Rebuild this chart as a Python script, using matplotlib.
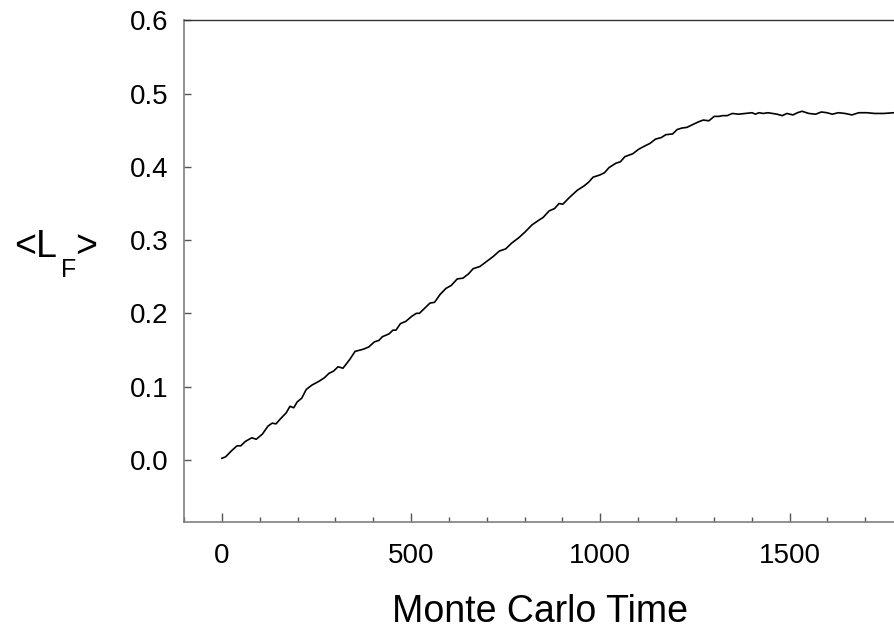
import numpy as np
import matplotlib
matplotlib.use("Agg")
import matplotlib.pyplot as plt
from matplotlib.ticker import MultipleLocator

plt.rcParams["font.family"] = ["Liberation Sans", "DejaVu Sans"]

# <L_F> vs Monte Carlo time
mc_time = [0, 10, 25, 40, 50, 62, 79, 91, 107, 122, 133, 143, 155, 170, 180, 190,
           199, 211, 223, 238, 256, 271, 283, 295, 307, 320, 338, 352, 374, 388,
           403, 415, 424, 442, 452, 460, 472, 486, 502, 514, 522, 538, 550, 562,
           577, 592, 606, 622, 637, 652, 664, 682, 700, 718, 733, 750, 766, 784,
           801, 820, 837, 849, 865, 879, 891, 901, 918, 939, 957, 969, 981, 999,
           1011, 1023, 1041, 1053, 1065, 1086, 1101, 1119, 1131, 1146, 1161, 1173,
           1191, 1203, 1215, 1229, 1245, 1257, 1272, 1287, 1301, 1313, 1323, 1335,
           1349, 1365, 1383, 1401, 1410, 1419, 1431, 1443, 1467, 1481, 1493, 1509,
           1521, 1533, 1551, 1569, 1584, 1599, 1613, 1629, 1647, 1665, 1683, 1704,
           1725, 1749, 1776, 1800]
lf_mean = [0.002, 0.004, 0.012, 0.019, 0.019, 0.025, 0.030, 0.028, 0.035, 0.046,
           0.050, 0.049, 0.056, 0.064, 0.073, 0.071, 0.079, 0.084, 0.096, 0.102,
           0.107, 0.112, 0.118, 0.121, 0.127, 0.125, 0.137, 0.148, 0.151, 0.154,
           0.161, 0.163, 0.168, 0.172, 0.177, 0.177, 0.186, 0.189, 0.196, 0.200,
           0.200, 0.208, 0.214, 0.215, 0.226, 0.234, 0.238, 0.247, 0.248, 0.254,
           0.261, 0.264, 0.271, 0.278, 0.285, 0.288, 0.296, 0.303, 0.311, 0.321,
           0.327, 0.331, 0.340, 0.343, 0.350, 0.349, 0.358, 0.368, 0.374, 0.379,
           0.386, 0.389, 0.392, 0.399, 0.405, 0.407, 0.414, 0.418, 0.424, 0.429,
           0.432, 0.438, 0.440, 0.444, 0.445, 0.451, 0.453, 0.454, 0.458, 0.461,
           0.464, 0.463, 0.469, 0.469, 0.470, 0.470, 0.473, 0.472, 0.473, 0.474,
           0.472, 0.474, 0.473, 0.474, 0.472, 0.470, 0.473, 0.471, 0.474, 0.476,
           0.473, 0.472, 0.475, 0.474, 0.472, 0.474, 0.473, 0.471, 0.474, 0.474,
           0.473, 0.473, 0.474, 0.473]

x_ticks = [0, 500, 1000, 1500]
y_ticks = [0.0, 0.1, 0.2, 0.3, 0.4, 0.5, 0.6]

fig = plt.figure(figsize=(8.95, 6.34), dpi=100)
ax = fig.add_axes([0.2056, 0.1767, 0.8034, 0.791])

ax.plot(mc_time, lf_mean, color="black", lw=1.2)

ax.set_xlim(-100, 1800)
ax.set_ylim(-0.085, 0.6)
ax.set_xticks(x_ticks)
ax.xaxis.set_minor_locator(MultipleLocator(100))
ax.set_yticks(y_ticks)
ax.set_yticklabels([f"{v:.1f}" for v in y_ticks])

for side in ["left", "bottom"]:
    ax.spines[side].set_color("#808080")
    ax.spines[side].set_linewidth(1.2)
ax.spines["top"].set_color("#333333")
ax.spines["top"].set_linewidth(1.0)

ax.tick_params(axis="x", which="major", direction="in", length=6.5, width=1,
               color="#555555", labelsize=20, pad=15)
ax.tick_params(axis="x", which="minor", direction="in", length=3.3, width=1,
               color="#555555")
ax.tick_params(axis="y", which="major", direction="in", length=5, width=1,
               color="#555555", labelsize=20, pad=11)

fig.text(0.603, 0.019, "Monte Carlo Time", fontsize=27, ha="center", va="baseline")

# y label <L_F> built from pieces so the subscript sits low like the original
fig.text(14 / 895, 1 - 257 / 634, "<L", fontsize=27, ha="left", va="baseline")
fig.text(61 / 895, 1 - 277 / 634, "F", fontsize=18, ha="left", va="baseline")
fig.text(75 / 895, 1 - 257 / 634, ">", fontsize=27, ha="left", va="baseline")

fig.savefig("out.png", dpi=100)
